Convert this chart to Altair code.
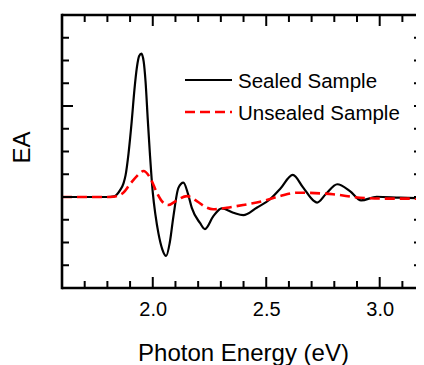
import altair as alt
import pandas as pd

# ---- data ----
sealed_ev = [1.60, 1.70, 1.80, 1.83, 1.856, 1.871, 1.880, 1.893, 1.907, 1.919, 1.930, 1.940,
             1.950, 1.960, 1.968, 1.978, 1.988, 2.000, 2.012, 2.025, 2.042, 2.059, 2.075,
             2.091, 2.113, 2.135, 2.155, 2.172, 2.208, 2.230, 2.267, 2.304, 2.355, 2.399,
             2.458, 2.517, 2.561, 2.617, 2.663, 2.707, 2.724, 2.763, 2.813, 2.869, 2.918,
             2.987, 3.089, 3.20]
sealed_ea = [0.0, 0.0, 0.0, 0.03, 0.30, 0.60, 0.95, 1.9, 3.3, 4.7, 5.7, 6.2,
             6.30, 5.95, 5.1, 3.4, 1.8, 0.2, -0.8, -1.6, -2.3, -2.59, -2.0,
             -0.85, 0.40, 0.63, 0.15, -0.48, -1.14, -1.41, -0.84, -0.50, -0.69, -0.80,
             -0.47, -0.10, 0.35, 0.97, 0.41, -0.15, -0.25, 0.13, 0.56, 0.26, -0.15,
             0.01, -0.03, -0.06]

unsealed_ev = [1.60, 1.80, 1.825, 1.870, 1.900, 1.930, 1.959, 1.988, 2.018, 2.040, 2.069,
               2.106, 2.150, 2.194, 2.238, 2.266, 2.326, 2.399, 2.487, 2.561, 2.634, 2.737,
               2.794, 2.913, 3.015, 3.20]
unsealed_ea = [0.0, 0.0, 0.01, 0.19, 0.57, 0.92, 1.14, 0.85, 0.19, -0.18, -0.35,
               -0.15, 0.04, -0.18, -0.47, -0.54, -0.47, -0.35, -0.18, 0.04, 0.19, 0.16,
               0.12, -0.03, -0.07, -0.07]

x_major = [2.0, 2.5, 3.0]
x_minor = [1.7, 1.8, 1.9, 2.1, 2.2, 2.3, 2.4, 2.6, 2.7, 2.8, 2.9, 3.1]
y_major = [0, 4]
y_minor = [-3, -2, -1, 1, 2, 3, 5, 6, 7]
series_names = ["Sealed Sample", "Unsealed Sample"]

FONT = "Liberation Sans"
W, H = 354, 273

xs = alt.Scale(domain=[1.6, 3.16], nice=False, zero=False)
ys = alt.Scale(domain=[-4, 8], nice=False, zero=False)

AX_X = alt.Axis(
    title="Photon Energy (eV)", values=x_major, format=".1f", ticks=False, tickSize=0,
    domain=False, grid=False, labelFont=FONT, labelFontSize=20, labelColor="black",
    labelPadding=11, titleFont=FONT, titleFontSize=24, titleFontWeight="normal",
    titleColor="black", titleX=181, titleY=72, titleBaseline="alphabetic", titleAlign="center")
AX_Y = alt.Axis(
    title="EA", labels=False, ticks=False, tickSize=0, domain=False, grid=False,
    titleFont=FONT, titleFontSize=24, titleFontWeight="normal", titleColor="black",
    titleX=-33, titleY=132, titleBaseline="alphabetic", titleAlign="center")

sealed = pd.DataFrame({"ev": sealed_ev, "ea": sealed_ea})
unsealed = pd.DataFrame({"ev": unsealed_ev, "ea": unsealed_ea})

line_s = alt.Chart(sealed).mark_line(color="black", strokeWidth=2.2, interpolate="monotone",
                                     clip=True).encode(
    x=alt.X("ev:Q", scale=xs, axis=AX_X), y=alt.Y("ea:Q", scale=ys, axis=AX_Y))
line_u = alt.Chart(unsealed).mark_line(color="#ff0000", strokeWidth=2.6, strokeDash=[10, 5],
                                       interpolate="monotone", clip=True).encode(
    x=alt.X("ev:Q", scale=xs, axis=AX_X), y=alt.Y("ea:Q", scale=ys, axis=AX_Y))

xmaj = pd.DataFrame({"v": x_major})
xmin = pd.DataFrame({"v": x_minor})
ymaj = pd.DataFrame({"v": y_major})
ymin = pd.DataFrame({"v": y_minor})

def xticks(df, length):
    bottom = alt.Chart(df).mark_rule(color="black", strokeWidth=2).encode(
        x=alt.X("v:Q", scale=xs, axis=AX_X), y=alt.value(H), y2=alt.value(H - length))
    top = alt.Chart(df).mark_rule(color="black", strokeWidth=2).encode(
        x=alt.X("v:Q", scale=xs, axis=AX_X), y=alt.value(0), y2=alt.value(length))
    return [bottom, top]

def ytick_left(df, length):
    return alt.Chart(df).mark_rule(color="black", strokeWidth=2).encode(
        y=alt.Y("v:Q", scale=ys, axis=AX_Y), x=alt.value(0), x2=alt.value(length))

def ytick_right(df, length):
    return alt.Chart(df).mark_rule(color="black", strokeWidth=2).encode(
        y=alt.Y("v:Q", scale=ys, axis=AX_Y), x=alt.value(W), x2=alt.value(W - length))

frame_df = pd.DataFrame({"a": [0]})
frame_left = alt.Chart(frame_df).mark_rule(color="black", strokeWidth=2.6).encode(
    x=alt.value(0), y=alt.value(-1.3), y2=alt.value(H + 1.3))
frame_top = alt.Chart(frame_df).mark_rule(color="black", strokeWidth=2.6).encode(
    x=alt.value(0), x2=alt.value(W), y=alt.value(0))
frame_bottom = alt.Chart(frame_df).mark_rule(color="black", strokeWidth=2.6).encode(
    x=alt.value(0), x2=alt.value(W), y=alt.value(H))

# legend (drawn by hand)
leg_s_line = alt.Chart(frame_df).mark_rule(color="black", strokeWidth=2.2).encode(
    x=alt.value(123), x2=alt.value(170), y=alt.value(65))
leg_u_line = alt.Chart(frame_df).mark_rule(color="#ff0000", strokeWidth=2.6, strokeDash=[10, 5]).encode(
    x=alt.value(123), x2=alt.value(170), y=alt.value(97))
leg_s_text = alt.Chart(pd.DataFrame({"label": [series_names[0]]})).mark_text(
    font=FONT, fontSize=20.5, align="left", baseline="alphabetic", color="black").encode(
    x=alt.value(176), y=alt.value(73), text="label:N")
leg_u_text = alt.Chart(pd.DataFrame({"label": [series_names[1]]})).mark_text(
    font=FONT, fontSize=20.5, align="left", baseline="alphabetic", color="black").encode(
    x=alt.value(176), y=alt.value(105), text="label:N")

layers = [line_s, line_u]
layers += xticks(xmaj, 11) + xticks(xmin, 7)
layers += [ytick_left(ymaj, 11), ytick_left(ymin, 7), ytick_right(ymaj, 2), ytick_right(ymin, 2)]
layers += [frame_left, frame_top, frame_bottom, leg_s_line, leg_u_line, leg_s_text, leg_u_text]

chart = alt.layer(*layers).properties(
    width=W, height=H,
    padding={"left": 54, "top": 7, "right": 0, "bottom": 77},
    autosize=alt.AutoSizeParams(type="none"),
).configure_view(stroke=None).configure(background="white")

chart.save("out.html", embed_options={"renderer": "svg", "actions": False})
